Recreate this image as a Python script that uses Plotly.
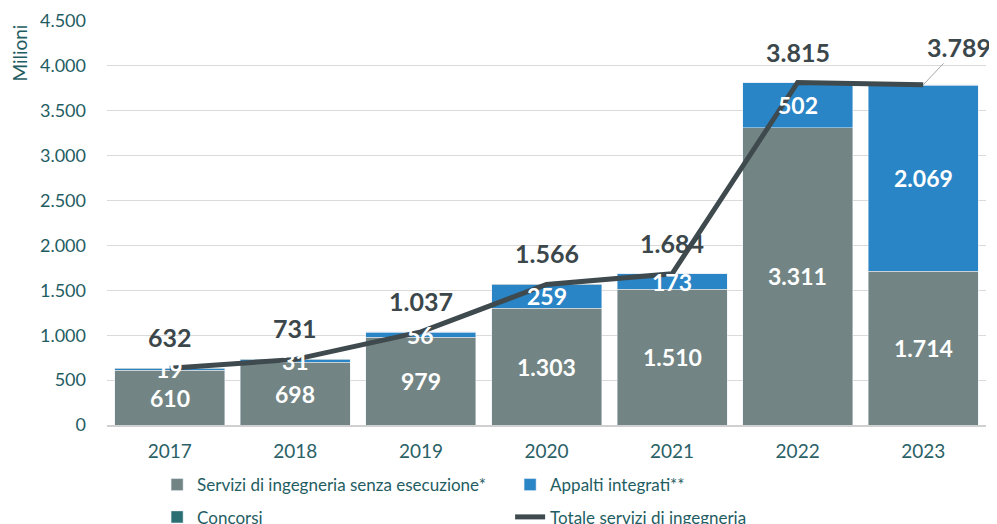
import plotly.graph_objects as go

anni = ["2017", "2018", "2019", "2020", "2021", "2022", "2023"]
servizi = [610, 698, 979, 1303, 1510, 3311, 1714]
appalti = [19, 31, 56, 259, 173, 502, 2069]
concorsi = [3, 2, 2, 4, 1, 2, 6]
totale = [632, 731, 1037, 1566, 1684, 3815, 3789]

FONT = "Lato"
TEAL = "#1f5d63"
DARK = "#3b474b"


def fmt(v):
    return f"{v:,}".replace(",", ".")


fig = go.Figure()
fig.add_trace(go.Bar(x=anni, y=servizi, name="Servizi di ingegneria senza esecuzione*",
                     marker_color="#728584", legend="legend"))
fig.add_trace(go.Bar(x=anni, y=appalti, name="Appalti integrati**",
                     marker_color="#2985c6", legend="legend"))
fig.add_trace(go.Bar(x=anni, y=concorsi, name="Concorsi",
                     marker_color="#2a6f72", legend="legend2"))
fig.add_trace(go.Scatter(x=anni, y=totale, mode="lines", name="Totale servizi di ingegneria",
                         line=dict(color="#3f4a4e", width=5), legend="legend2"))

# annotations on a category axis: use the category index as x
annotations = []
for i in range(len(anni)):
    annotations.append(dict(x=i, y=servizi[i] / 2, text=fmt(servizi[i]), showarrow=False,
                            font=dict(size=23, color="white", family=FONT, weight="bold")))
    annotations.append(dict(x=i, y=servizi[i] + appalti[i] / 2, text=fmt(appalti[i]), showarrow=False,
                            font=dict(size=23, color="white", family=FONT, weight="bold")))
    if i < len(anni) - 1:
        annotations.append(dict(x=i, y=totale[i], yshift=31, text=fmt(totale[i]), showarrow=False,
                                font=dict(size=25, color=DARK, family=FONT, weight="bold")))
    else:
        annotations.append(dict(x=i, y=totale[i], text=fmt(totale[i]), showarrow=True,
                                arrowhead=0, arrowwidth=1, arrowcolor="#a6a6a6",
                                ax=36, ay=-38, standoff=0,
                                font=dict(size=25, color=DARK, family=FONT, weight="bold")))

annotations.append(dict(text="Milioni", xref="paper", yref="paper", x=-0.1, y=0.995,
                        xanchor="center", yanchor="top", textangle=-90, showarrow=False,
                        font=dict(size=19, color=TEAL, family=FONT)))

# page body has an 8px margin, so the figure is a bit smaller than the window
fig.update_layout(
    width=989, height=516,
    barmode="stack", bargap=0.124,
    separators=",.",
    plot_bgcolor="white", paper_bgcolor="white",
    margin=dict(l=99, r=11, t=13, b=99, autoexpand=False),
    font=dict(family=FONT, color=TEAL),
    annotations=annotations,
    xaxis=dict(type="category", range=[-0.5, 6.5], showgrid=False, showline=True,
               linecolor="#d0d0d0", linewidth=2, ticklabelstandoff=8,
               tickfont=dict(size=19, color="#2a6166"), ticks=""),
    yaxis=dict(range=[0, 4500], dtick=500, tickformat=",d", gridcolor="#dadada", gridwidth=1,
               zeroline=False, tickfont=dict(size=18, color=TEAL), ticks="",
               ticklabelstandoff=20),
    legend=dict(orientation="h", x=0.057, y=-0.104, xanchor="left", yanchor="top",
                traceorder="normal", entrywidth=308, entrywidthmode="pixels",
                font=dict(size=17, color=TEAL)),
    legend2=dict(orientation="h", x=0.057, y=-0.184, xanchor="left", yanchor="top",
                 traceorder="normal", entrywidth=308, entrywidthmode="pixels",
                 font=dict(size=17, color=TEAL)),
)

fig.write_html("out.html")
